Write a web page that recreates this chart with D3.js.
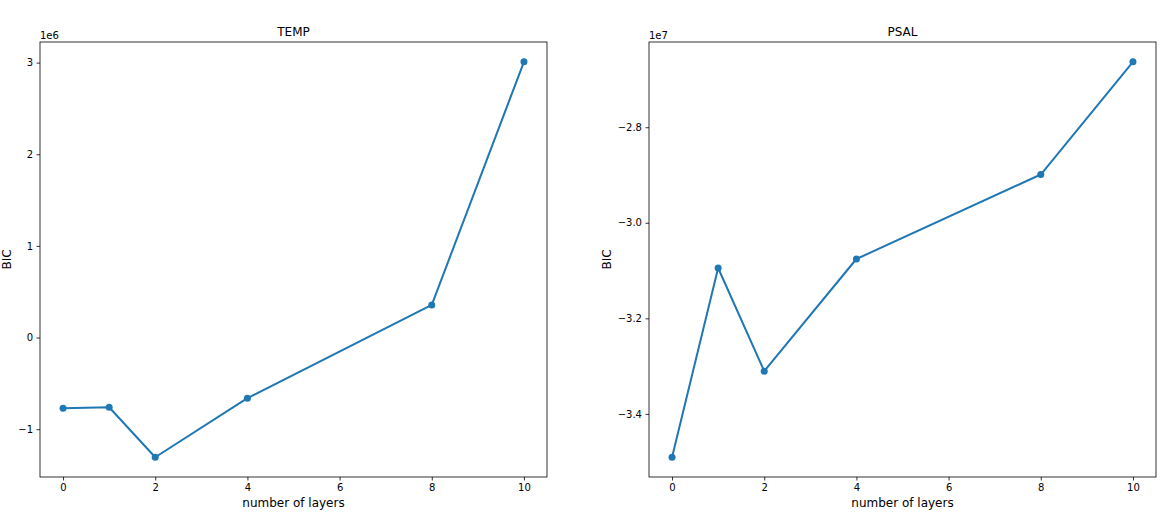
<!DOCTYPE html>
<html>
<head>
<meta charset="utf-8">
<script src="https://cdn.jsdelivr.net/npm/d3@7"></script>
<style>
  body { margin: 0; background: #fff; }
  text { font-family: "DejaVu Sans", sans-serif; fill: #000; }
</style>
</head>
<body>
<div id="chart"></div>
<script>
// data
var layers = [0, 1, 2, 4, 8, 10];
var tempBIC = [-771000, -761000, -1306000, -662000, 356000, 3009000];
var psalBIC = [-34907000, -30946000, -33105000, -30758000, -28990000, -26630000];
var xTicks = [0, 2, 4, 6, 8, 10];
var tempTicks = [-1e6, 0, 1e6, 2e6, 3e6];
var psalTicks = [-3.4e7, -3.2e7, -3.0e7, -2.8e7];

var width = 1173, height = 517;
var svg = d3.select("#chart").append("svg")
  .attr("width", width)
  .attr("height", height);

function panel(opts) {
  var left = opts.left, top = 42, w = 507, h = 435;
  var g = svg.append("g").attr("transform", "translate(" + left + "," + top + ")");

  // 5% margin like matplotlib
  var xe = d3.extent(layers), xp = (xe[1] - xe[0]) * 0.05;
  var x = d3.scaleLinear().domain([xe[0] - xp, xe[1] + xp]).range([0, w]);
  var ye = d3.extent(opts.values), yp = (ye[1] - ye[0]) * 0.05;
  var y = d3.scaleLinear().domain([ye[0] - yp, ye[1] + yp]).range([h, 0]);

  var xAxis = g.append("g")
    .attr("transform", "translate(0," + h + ")")
    .call(d3.axisBottom(x).tickValues(xTicks).tickSize(3.5).tickPadding(3.5)
      .tickFormat(function(d) { return d3.format("d")(d); }));
  xAxis.select(".domain").remove();

  var yAxis = g.append("g")
    .call(d3.axisLeft(y).tickValues(opts.ticks).tickSize(3.5).tickPadding(3.5)
      .tickFormat(opts.fmt));
  yAxis.select(".domain").remove();

  g.selectAll(".tick line").attr("stroke", "#000").attr("stroke-width", 0.8);
  g.selectAll(".tick text").style("font-size", "10px").attr("fill", "#000");

  // frame
  g.append("rect")
    .attr("width", w).attr("height", h)
    .attr("fill", "none").attr("stroke", "#000").attr("stroke-width", 0.8);

  g.append("path")
    .datum(opts.values)
    .attr("fill", "none")
    .attr("stroke", "#1f77b4")
    .attr("stroke-width", 2)
    .attr("stroke-linejoin", "round")
    .attr("d", d3.line()
      .x(function(d, i) { return x(layers[i]); })
      .y(function(d) { return y(d); }));

  g.selectAll(".dot")
    .data(opts.values)
    .enter().append("circle")
    .attr("cx", function(d, i) { return x(layers[i]); })
    .attr("cy", function(d) { return y(d); })
    .attr("r", 3.5)
    .attr("fill", "#1f77b4");

  g.append("text")
    .attr("x", w / 2).attr("y", -6)
    .attr("text-anchor", "middle")
    .style("font-size", "12px")
    .text(opts.title);

  g.append("text")
    .attr("x", 0).attr("y", -3)
    .style("font-size", "10px")
    .text(opts.offset);

  g.append("text")
    .attr("x", w / 2).attr("y", h + 30)
    .attr("text-anchor", "middle")
    .style("font-size", "12px")
    .text("number of layers");

  g.append("text")
    .attr("transform", "translate(" + opts.ylabX + "," + (h / 2) + ") rotate(-90)")
    .attr("text-anchor", "middle")
    .style("font-size", "12px")
    .text("BIC");
}

panel({
  left: 40, values: tempBIC, ticks: tempTicks, title: "TEMP", offset: "1e6", ylabX: -29,
  fmt: function(d) { return d3.format("d")(d / 1e6).replace("-", "\u2212"); }
});
panel({
  left: 649, values: psalBIC, ticks: psalTicks, title: "PSAL", offset: "1e7", ylabX: -38,
  fmt: function(d) { return d3.format(".1f")(d / 1e7).replace("-", "\u2212"); }
});
</script>
</body>
</html>
